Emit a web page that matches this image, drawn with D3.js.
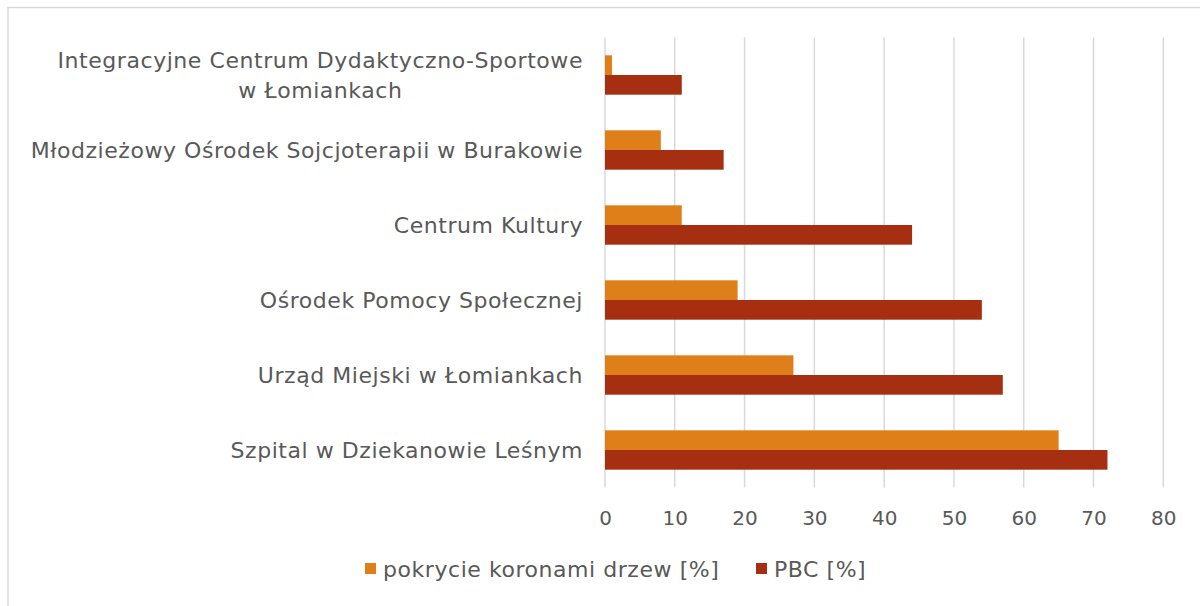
<!DOCTYPE html>
<html><head><meta charset="utf-8">
<script src="https://cdn.jsdelivr.net/npm/d3@7"></script>
<style>html,body{margin:0;padding:0;background:#fff;}svg{display:block;}</style>
</head><body>
<svg id="chart" width="1200" height="606"></svg>
<script>
const categories = [
  ["Integracyjne Centrum Dydaktyczno-Sportowe", "w Łomiankach"],
  ["Młodzieżowy Ośrodek Sojcjoterapii w Burakowie"],
  ["Centrum Kultury"],
  ["Ośrodek Pomocy Społecznej"],
  ["Urząd Miejski w Łomiankach"],
  ["Szpital w Dziekanowie Leśnym"]
];
const seriesNames = ["pokrycie koronami drzew [%]", "PBC [%]"];
const coverage = [1, 8, 11, 19, 27, 65];
const pbc = [11, 17, 44, 54, 57, 72];
const xTicks = [0, 10, 20, 30, 40, 50, 60, 70, 80];
const colors = ["#DF7F19", "#A52F10"];

const FONT = "'DejaVu Sans', sans-serif";
const TXT = "#595959";
const svg = d3.select("#chart");

// frame
svg.append("rect").attr("x", 8).attr("y", 7.5).attr("width", 1200).attr("height", 610)
  .attr("fill", "#fff").attr("stroke", "#d9d9d9").attr("stroke-width", 1.5);

const x = d3.scaleLinear().domain([0, 80]).range([605, 1163.3]);
const catIdx = categories.map((d, i) => i);
const y = d3.scaleBand().domain(catIdx).range([37.5, 487.5]).paddingInner(0.475).paddingOuter(0.2375);
const ySub = d3.scaleBand().domain([0, 1]).range([0, y.bandwidth()]);

// grid
svg.append("g").selectAll("line").data(xTicks).join("line")
  .attr("x1", d => x(d)).attr("x2", d => x(d))
  .attr("y1", 37.5).attr("y2", 487.5)
  .attr("stroke", "#d9d9d9").attr("stroke-width", 1.5);

// bars
const data = [coverage, pbc];
data.forEach((vals, s) => {
  svg.append("g").selectAll("rect").data(vals).join("rect")
    .attr("x", x(0))
    .attr("y", (d, i) => y(i) + ySub(s))
    .attr("width", d => x(d) - x(0))
    .attr("height", ySub.bandwidth())
    .attr("fill", colors[s]);
});

// x axis labels
const xAxis = d3.axisBottom(x).tickValues(xTicks).tickSize(0).tickPadding(0);
const gx = svg.append("g").attr("transform", "translate(0,506)").call(xAxis);
gx.select(".domain").remove();
gx.selectAll("text").attr("font-family", FONT).attr("font-size", 20).attr("fill", TXT)
  .attr("dy", "0.32em").attr("y", 13);

// category labels
const FS = 22;
const LS = 0.55;
const labelRight = 583;
categories.forEach((lines, i) => {
  const cy = y(i) + y.bandwidth() / 2;
  const g = svg.append("g");
  const n = lines.length;
  const lh = 30;
  const texts = lines.map((t, k) => g.append("text").text(t)
      .attr("font-family", FONT).attr("font-size", FS).attr("fill", TXT)
      .attr("letter-spacing", LS)
      .attr("dy", "0.35em").attr("y", cy + (k - (n - 1) / 2) * lh));
  const widths = texts.map(t => t.node().getComputedTextLength());
  const maxW = d3.max(widths);
  const center = labelRight - maxW / 2;
  texts.forEach(t => t.attr("x", center).attr("text-anchor", "middle"));
});

// legend
const legend = svg.append("g");
const legendItems = [
  {name: seriesNames[0], color: colors[0], x: 365},
  {name: seriesNames[1], color: colors[1], x: 756}
];
legendItems.forEach(it => {
  legend.append("rect").attr("x", it.x).attr("y", 563).attr("width", 11).attr("height", 11).attr("fill", it.color);
  legend.append("text").attr("x", it.x + 18).attr("y", 569).attr("dy", "0.35em")
    .attr("font-family", FONT).attr("font-size", FS).attr("fill", TXT)
    .attr("letter-spacing", LS).text(it.name);
});
</script>
</body></html>
